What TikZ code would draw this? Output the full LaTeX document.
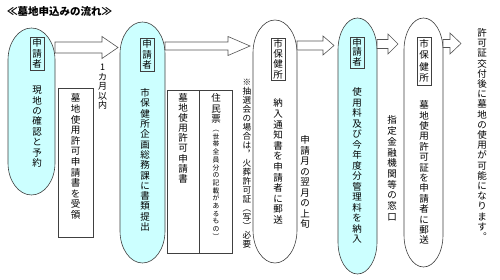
\documentclass[tikz,border=0pt]{standalone}
\usepackage{fontspec}
\setmainfont{Noto Sans CJK JP}
\usetikzlibrary{calc}
\definecolor{capcyan}{HTML}{CCFFFF}
\definecolor{edgegray}{HTML}{404040}
\definecolor{arrgray}{HTML}{555555}
\makeatletter
\newlength\vtstep
\newcommand\vt[2][10.4pt]{%
  \setlength\vtstep{#1}%
  \vbox{\offinterlineskip\@tfor\vt@c:=#2\do{\hbox to 1.05em{\hss\vrule width0pt height0.82\vtstep depth0.18\vtstep\vt@c\hss}}}}
\makeatother
\newcommand\capsule[6]{%
  \draw[shapeline,fill=#6] (#1,{-(#3+#5)}) arc[start angle=180,end angle=0,x radius={(#2-#1)/2},y radius=#5]
    -- (#2,{-(#4-#5)}) arc[start angle=0,end angle=-180,x radius={(#2-#1)/2},y radius=#5] -- cycle;}
\newcommand\barrow[5]{%
  \draw[arrowline] ($(#1)+(0,#3)$) -- ($(#2)+(-#5,#3)$) -- ($(#2)+(-#5,#4)$) -- (#2)
    -- ($(#2)+(-#5,-#4)$) -- ($(#2)+(-#5,-#3)$) -- ($(#1)+(0,-#3)$) -- cycle;}
\tikzset{
  shapeline/.style={draw=edgegray,line width=0.6pt},
  arrowline/.style={draw=arrgray,fill=white,line width=0.6pt,line join=miter},
  vtxt/.style={anchor=north,inner sep=0pt,font=\fontsize{9.5pt}{10.5pt}\selectfont},
  lbl/.style={anchor=north,draw=edgegray,line width=0.5pt,inner xsep=1.8pt,inner ysep=0.8pt,font=\fontsize{9.5pt}{10.5pt}\selectfont},
  docbox/.style={draw=edgegray,line width=0.6pt,anchor=north west,inner sep=0pt},
}
\begin{document}
\begin{tikzpicture}[x=1pt,y=1pt]
\useasboundingbox[fill=white] (0,0) rectangle (500,-280);
% title
\node[anchor=west,inner sep=0pt,font=\bfseries\fontsize{10.5pt}{12pt}\selectfont] (title) at (7,-12) {≪墓地申込みの流れ≫};
% capsules
\capsule{8}{55}{28}{195}{32}{capcyan}
\capsule{120}{165}{22}{263}{32}{capcyan}
\capsule{253}{297}{20}{263}{33}{white}
\capsule{338}{377}{18}{274}{32}{capcyan}
\capsule{404}{443}{18}{267}{32}{white}
% document boxes
\node[docbox,minimum width=35pt,minimum height=149pt] (d1) at (58,-88) {};
\node[docbox,minimum width=32pt,minimum height=163pt] (d2a) at (167,-90) {};
\node[docbox,minimum width=33pt,minimum height=163pt] (d2b) at (199,-90) {};
% arrows
\coordinate (a1s) at (55,-47.5); \coordinate (a1e) at (118,-47.5);
\coordinate (a2s) at (165,-46); \coordinate (a2e) at (250,-46);
\coordinate (a3s) at (297,-45.5); \coordinate (a3e) at (334,-45.5);
\coordinate (a4s) at (377,-44); \coordinate (a4e) at (398,-44);
\coordinate (a5s) at (443,-43.5); \coordinate (a5e) at (461,-43.5);
\barrow{a1s}{a1e}{5.5}{11}{16}
\barrow{a2s}{a2e}{4}{9.5}{22}
\barrow{a3s}{a3e}{4.5}{9.5}{11}
\barrow{a4s}{a4e}{4.5}{10}{10}
\barrow{a5s}{a5e}{4}{10.5}{11}
% labels
\node[lbl] (l1) at (37,-37) {\vt[10.5pt]{申請者}};
\node[lbl] (l2) at (147,-38) {\vt[10.5pt]{申請者}};
\node[lbl] (l3) at (278,-38) {\vt[10.2pt]{市保健所}};
\node[lbl] (l4) at (357,-37) {\vt[9.8pt]{申請者}};
\node[lbl] (l5) at (424,-37) {\vt[11.5pt]{市保健所}};
% texts in capsules
\node[vtxt] (t1) at (37,-85) {\vt[10.4pt]{現地の確認と予約}};
\node[vtxt] (t2) at (145,-88) {\vt[10.3pt]{市保健所企画総務課に書類提出}};
\node[vtxt] (t3) at (278,-98) {\vt[10.6pt]{納入通知書を申請者に郵送}};
\node[vtxt] (t4) at (357,-87) {\vt[10.5pt]{使用料及び今年度分管理料を納入}};
\node[vtxt] (t5) at (424,-100) {\vt[10.4pt]{墓地使用許可証を申請者に郵送}};
% texts in doc boxes
\node[vtxt] (dt1) at (75.5,-93) {\vt[10.6pt]{墓地使用許可申請書を受領}};
\node[vtxt] (dt2) at (183,-93) {\vt[10.1pt]{墓地使用許可申請書}};
\node[vtxt] (dt3) at (216,-93) {\vt[10.4pt]{住民票}};
\node[vtxt,font=\fontsize{6.8pt}{7.6pt}\selectfont] (dt4) at (216,-125) {\vt[7.7pt]{︵世帯全員分の記載があるもの︶}};
% free texts
\node[vtxt,font=\fontsize{9pt}{9.4pt}\selectfont] (m1) at (102.5,-63) {\vt[9.4pt]{1カ月以内}};
\node[vtxt,font=\fontsize{8.6pt}{9pt}\selectfont] (n1) at (247,-78) {\vt[9pt]{※抽選会の場合は︐火葬許可証︵写︶必要}};
\node[vtxt] (m2) at (305,-135) {\vt[10.5pt]{申請月の翌月の上旬}};
\node[vtxt] (m3) at (392,-115) {\vt[10.7pt]{指定金融機関等の窓口}};
\node[vtxt] (m4) at (482,-28) {\vt[10.2pt]{許可証交付後に墓地の使用が可能になります︒}};
\end{tikzpicture}
\end{document}
